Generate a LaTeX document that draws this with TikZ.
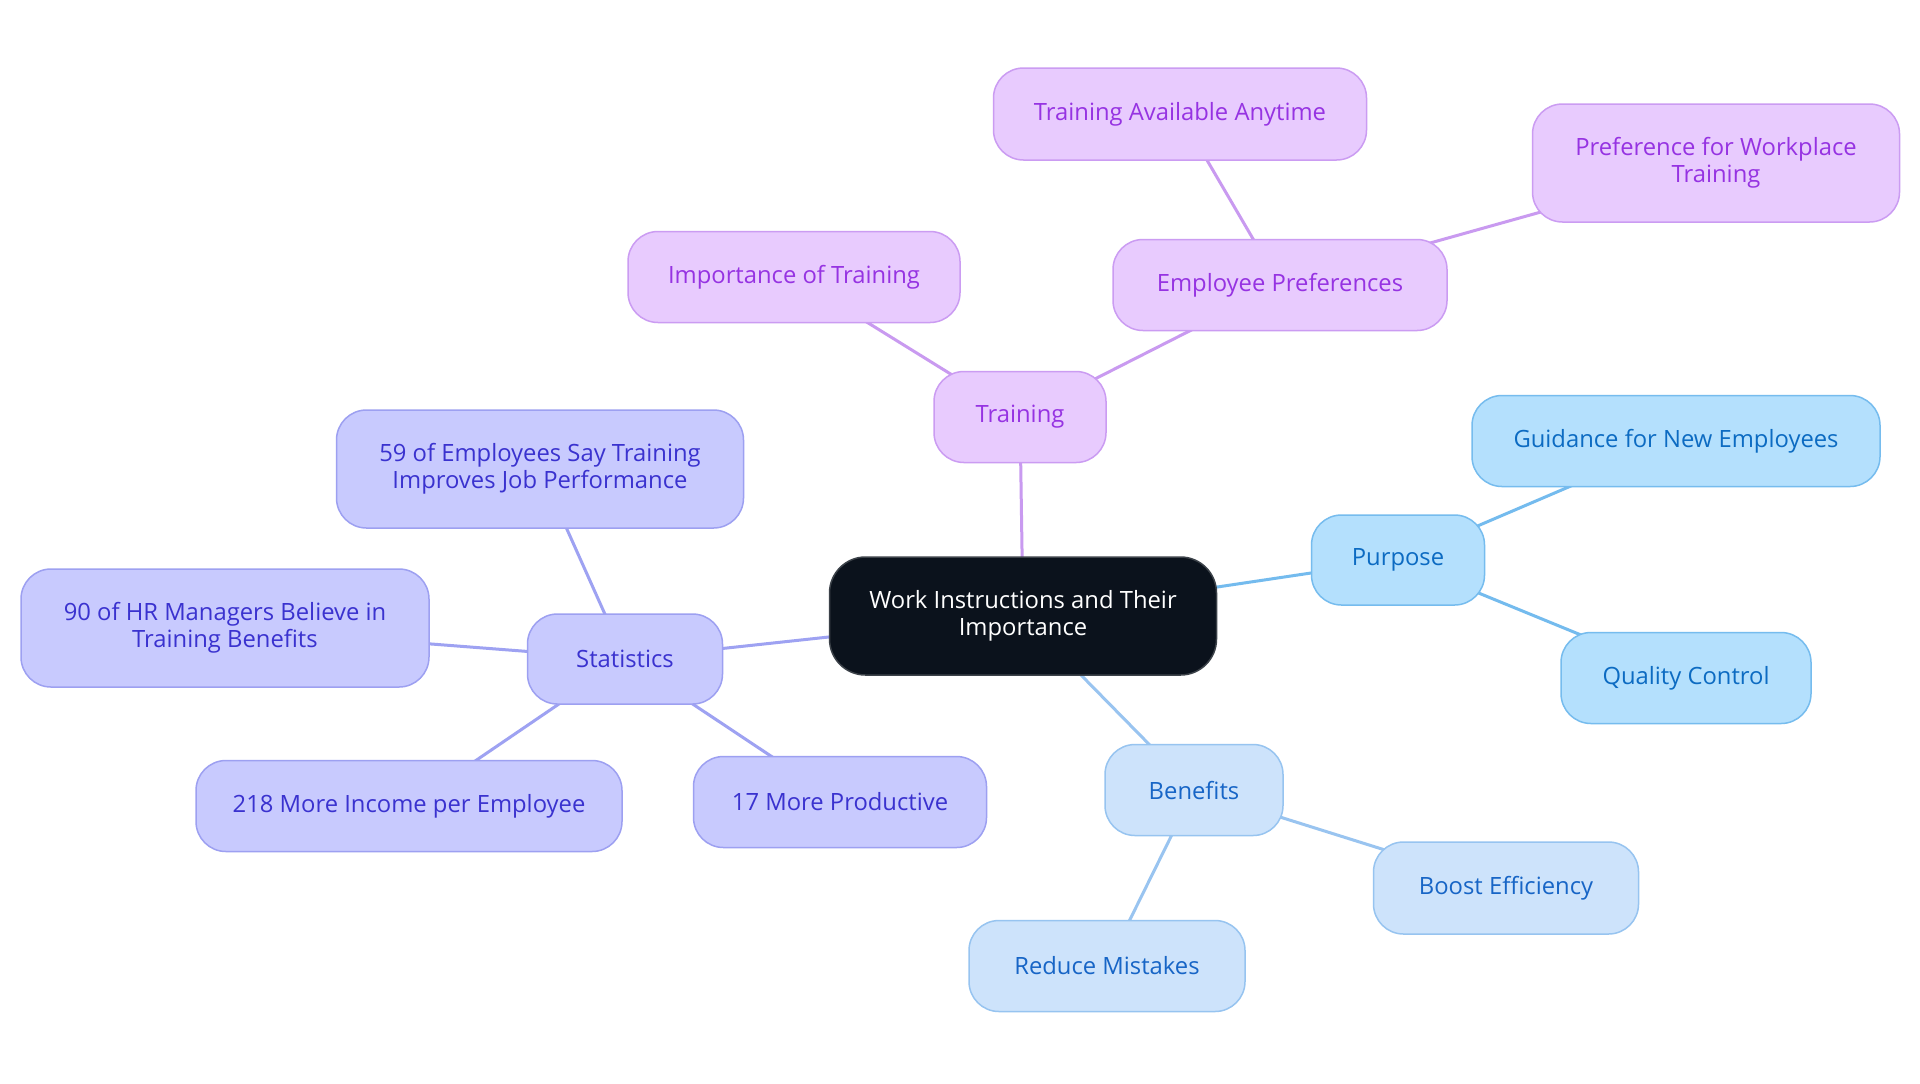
\documentclass[tikz,border=0pt]{standalone}
\usepackage{fontspec}
\setmainfont{Open Sans}
\usetikzlibrary{backgrounds}
\definecolor{trfill}{HTML}{E8CBFE}
\definecolor{trdraw}{HTML}{CB9CF2}
\definecolor{trtext}{HTML}{9633E2}
\definecolor{trline}{HTML}{C99AF0}
\definecolor{stfill}{HTML}{C8CAFE}
\definecolor{stdraw}{HTML}{9DA0F1}
\definecolor{sttext}{HTML}{3A32CF}
\definecolor{stline}{HTML}{9EA2F2}
\definecolor{pufill}{HTML}{B4E0FD}
\definecolor{pudraw}{HTML}{76BCEE}
\definecolor{putext}{HTML}{0C6BC2}
\definecolor{puline}{HTML}{74BBEE}
\definecolor{befill}{HTML}{CDE3FB}
\definecolor{bedraw}{HTML}{97C4F0}
\definecolor{betext}{HTML}{1765C6}
\definecolor{beline}{HTML}{99C4F0}
\definecolor{rootfill}{HTML}{0B121C}
\definecolor{rootdraw}{HTML}{3C4249}
\tikzset{
  mm/.style={rectangle, rounded corners=15pt, line width=0.75pt, align=center,
    inner sep=0pt, font=\fontsize{11.9pt}{13.5pt}\selectfont},
  trbox/.style={mm, fill=trfill, draw=trdraw, text=trtext},
  stbox/.style={mm, fill=stfill, draw=stdraw, text=sttext},
  pubox/.style={mm, fill=pufill, draw=pudraw, text=putext},
  bebox/.style={mm, fill=befill, draw=bedraw, text=betext},
  rootbox/.style={mm, rounded corners=18pt, fill=rootfill, draw=rootdraw, text=white},
  edge/.style={line width=1.5pt}
}
\begin{document}
\begin{tikzpicture}[x=0.5pt,y=-0.5pt]
\useasboundingbox (0,0) rectangle (1920,1083);
\node[rootbox, minimum width=193.5pt, minimum height=59pt] (root) at (1023,616) {Work Instructions and Their\\Importance};
% Training
\node[trbox, minimum width=86pt, minimum height=45.5pt] (training) at (1020,417) {Training};
\node[trbox, minimum width=166pt, minimum height=45.5pt] (imp) at (794,277) {Importance of Training};
\node[trbox, minimum width=167pt, minimum height=45.5pt] (emppref) at (1280,285) {Employee Preferences};
\node[trbox, minimum width=186.5pt, minimum height=46pt] (avail) at (1180,114) {Training Available Anytime};
\node[trbox, minimum width=183.5pt, minimum height=59pt] (workplace) at (1716,163) {Preference for Workplace\\Training};
% Purpose
\node[pubox, minimum width=86.5pt, minimum height=45pt] (purpose) at (1398,560) {Purpose};
\node[pubox, minimum width=204pt, minimum height=45.5pt] (guidance) at (1676,441) {Guidance for New Employees};
\node[pubox, minimum width=125pt, minimum height=45.5pt] (quality) at (1686,678) {Quality Control};
% Benefits
\node[bebox, minimum width=89pt, minimum height=45.5pt] (benefits) at (1194,790) {Benefits};
\node[bebox, minimum width=132.5pt, minimum height=46pt] (boost) at (1506,888) {Boost Efficiency};
\node[bebox, minimum width=138pt, minimum height=45.5pt] (reduce) at (1107,966) {Reduce Mistakes};
% Statistics
\node[stbox, minimum width=97.5pt, minimum height=45pt] (stats) at (625,659) {Statistics};
\node[stbox, minimum width=203.5pt, minimum height=59pt] (s59) at (540,469) {59 of Employees Say Training\\Improves Job Performance};
\node[stbox, minimum width=204pt, minimum height=59pt] (hr) at (225,628) {90 of HR Managers Believe in\\Training Benefits};
\node[stbox, minimum width=213pt, minimum height=45.5pt] (income) at (409,806) {218 More Income per Employee};
\node[stbox, minimum width=146.5pt, minimum height=45.5pt] (prod) at (840,802) {17 More Productive};
\begin{scope}[on background layer]
\fill[white] (0,0) rectangle (1920,1083);
\draw[edge, trline] (root.center) -- (training.center);
\draw[edge, trline] (training.center) -- (imp.center);
\draw[edge, trline] (training.center) -- (emppref.center);
\draw[edge, trline] (emppref.center) -- (avail.center);
\draw[edge, trline] (emppref.center) -- (workplace.center);
\draw[edge, puline] (root.center) -- (purpose.center);
\draw[edge, puline] (purpose.center) -- (guidance.center);
\draw[edge, puline] (purpose.center) -- (quality.center);
\draw[edge, beline] (root.center) -- (benefits.center);
\draw[edge, beline] (benefits.center) -- (boost.center);
\draw[edge, beline] (benefits.center) -- (reduce.center);
\draw[edge, stline] (root.center) -- (stats.center);
\draw[edge, stline] (stats.center) -- (s59.center);
\draw[edge, stline] (stats.center) -- (hr.center);
\draw[edge, stline] (stats.center) -- (income.center);
\draw[edge, stline] (stats.center) -- (prod.center);
\end{scope}
\end{tikzpicture}
\end{document}
